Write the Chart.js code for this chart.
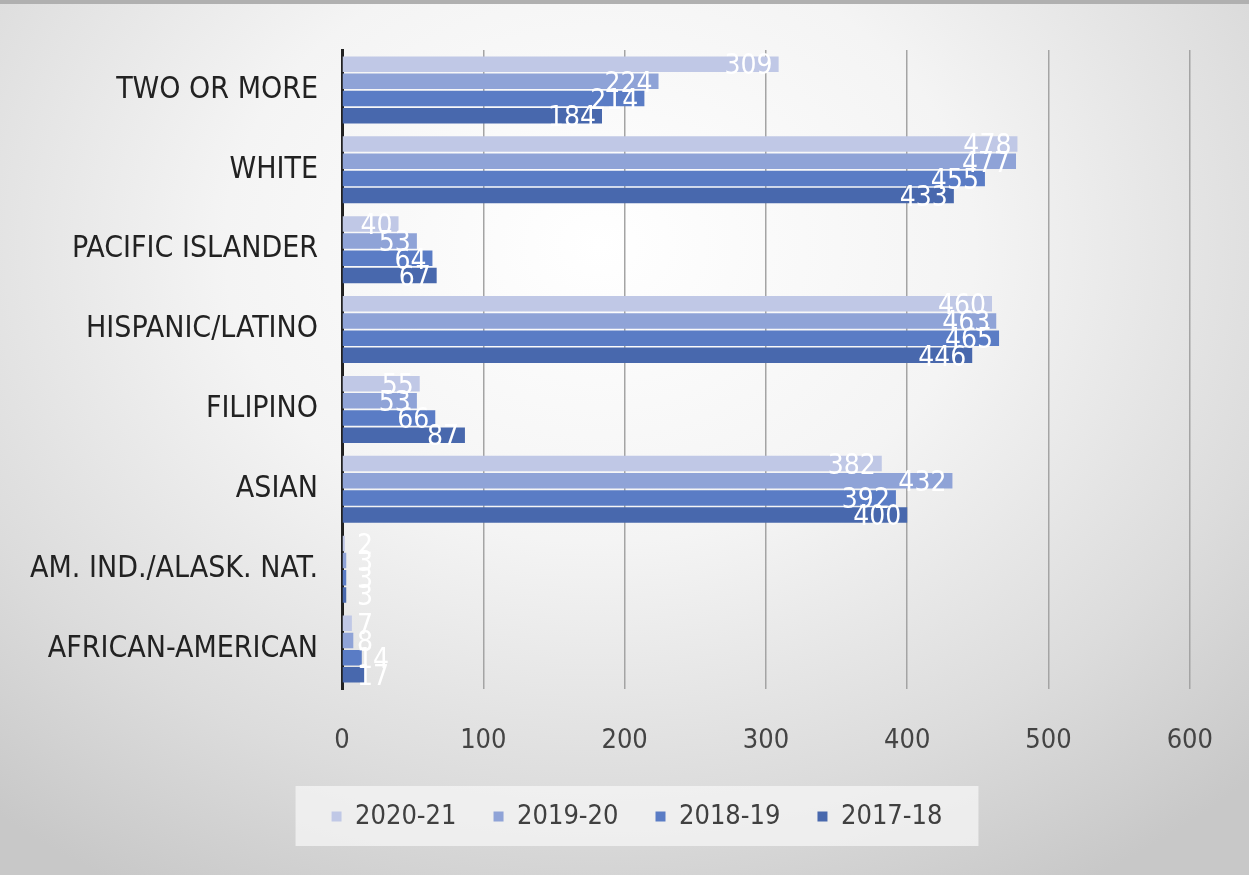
<!DOCTYPE html>
<html>
<head>
<meta charset="utf-8">
<script src="https://cdn.jsdelivr.net/npm/chart.js@4"></script>
<style>
  html, body { margin: 0; padding: 0; }
  body {
    width: 1249px; height: 875px; overflow: hidden;
    background: radial-gradient(ellipse 75% 85% at 48% 28%, #ffffff 0%, #f4f4f4 40%, #dcdcdc 75%, #c8c8c8 100%);
  }
  #wrap { position: relative; width: 1249px; height: 875px; }
  #topline { position: absolute; left: 0; top: 0; width: 1249px; height: 4px; background: #b0b0b0; }
</style>
</head>
<body>
<div id="wrap"><canvas id="chart"></canvas><div id="topline"></div></div>
<script>
// enrollment by ethnicity, four school years
var categories = ['TWO OR MORE', 'WHITE', 'PACIFIC ISLANDER', 'HISPANIC/LATINO', 'FILIPINO', 'ASIAN', 'AM. IND./ALASK. NAT.', 'AFRICAN-AMERICAN'];
var years = ['2020-21', '2019-20', '2018-19', '2017-18'];
var y2021 = [309, 478, 40, 460, 55, 382, 2, 7];
var y1920 = [224, 477, 53, 463, 53, 432, 3, 8];
var y1819 = [214, 455, 64, 465, 66, 392, 3, 14];
var y1718 = [184, 433, 67, 446, 87, 400, 3, 17];
var xTicks = [0, 100, 200, 300, 400, 500, 600];

var colors = ['#c0c8e6', '#8fa3d7', '#5a7cc5', '#4868ad'];
var FONT = '"Liberation Sans Narrow", "DejaVu Sans Condensed", "Roboto", sans-serif';

// white value labels at the inner end of each bar
var barLabels = {
    id: 'barLabels',
    afterDatasetsDraw: function (chart) {
        var ctx = chart.ctx;
        var x0 = chart.scales.x.getPixelForValue(0);
        ctx.save();
        ctx.font = '28px ' + FONT;
        ctx.fillStyle = '#ffffff';
        ctx.textAlign = 'right';
        ctx.textBaseline = 'middle';
        chart.data.datasets.forEach(function (ds, i) {
            chart.getDatasetMeta(i).data.forEach(function (bar, j) {
                var txt = String(ds.data[j]);
                var w = ctx.measureText(txt).width;
                var x = Math.max(bar.x - 6, x0 + w + 15);
                ctx.fillText(txt, x, bar.y + 3);
            });
        });
        ctx.restore();
    }
};

// legend sits under the plot area, not the whole canvas, plus a pale panel behind it
var legendPanel = {
    id: 'legendPanel',
    afterLayout: function (chart) {
        if (!chart.legend) return;
        chart.legend.left += 42;
        chart.legend.right += 42;
    },
    beforeDraw: function (chart) {
        var boxes = chart.legend && chart.legend.legendHitBoxes;
        if (!boxes || !boxes.length) return;
        var minX = Infinity, maxX = -Infinity, top = Infinity, bottom = -Infinity;
        boxes.forEach(function (b) {
            minX = Math.min(minX, b.left); maxX = Math.max(maxX, b.left + b.width);
            top = Math.min(top, b.top); bottom = Math.max(bottom, b.top + b.height);
        });
        var ctx = chart.ctx;
        ctx.save();
        ctx.fillStyle = 'rgba(245,245,245,0.75)';
        ctx.fillRect(minX - 36, top - 17, maxX - minX + 72, bottom - top + 33);
        ctx.restore();
    }
};

var datasets = [y2021, y1920, y1819, y1718].map(function (vals, i) {
    return {
        label: years[i],
        data: vals,
        backgroundColor: colors[i],
        borderWidth: 0,
        categoryPercentage: 0.86,
        barPercentage: 0.9
    };
});

new Chart(document.getElementById('chart').getContext('2d'), {
    type: 'bar',
    data: { labels: categories, datasets: datasets },
    options: {
        indexAxis: 'y',
        responsive: true,
        maintainAspectRatio: false,
        animation: false,
        layout: { padding: { top: 50, right: 59, bottom: 35, left: 0 } },
        scales: {
            x: {
                min: xTicks[0],
                max: xTicks[xTicks.length - 1],
                afterBuildTicks: function (scale) {
                    scale.ticks = xTicks.map(function (v) { return { value: v }; });
                },
                grid: { color: '#a4a4a4', lineWidth: 1.5, drawTicks: false },
                border: { display: false },
                ticks: { color: '#444', padding: 36, font: { family: FONT, size: 27 } },
                afterFit: function (scale) { scale.height = 77; }
            },
            y: {
                grid: { display: false, drawTicks: false },
                border: { display: true, color: '#222', width: 3 },
                ticks: { color: '#222', padding: 24, font: { family: FONT, size: 30 } },
                afterFit: function (scale) { scale.width = 342; }
            }
        },
        plugins: {
            legend: {
                position: 'bottom',
                labels: {
                    boxWidth: 10, boxHeight: 10, padding: 37,
                    color: '#404040',
                    font: { family: FONT, size: 27 }
                }
            },
            tooltip: { enabled: false }
        }
    },
    plugins: [legendPanel, barLabels]
});
</script>
</body>
</html>
